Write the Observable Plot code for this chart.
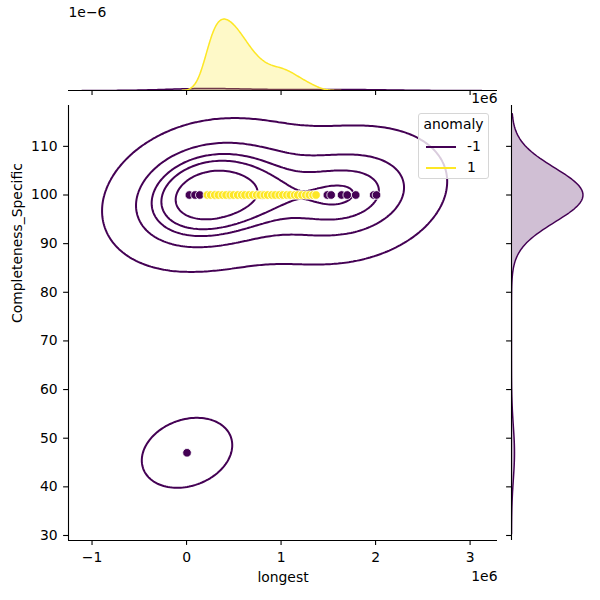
<!DOCTYPE html>
<html>
<head>
<meta charset="utf-8">
<script src="https://cdn.jsdelivr.net/npm/d3@7"></script>
<script src="https://cdn.jsdelivr.net/npm/@observablehq/plot@0.6"></script>
<style>
  body { margin: 0; background: #fff; }
  #chart { position: relative; width: 600px; height: 600px; font-family: "DejaVu Sans", sans-serif; color: #000; }
  #chart svg { position: absolute; left: 0; top: 0; }
  .legend { position: absolute; left: 418px; top: 113px; width: 71px; height: 66px; box-sizing: border-box;
            border: 1px solid #d6d6d6; border-radius: 3px; background: rgba(255,255,255,0.8); font-size: 13.9px; }
  .legend .title { position: absolute; left: 0; width: 100%; top: 2px; text-align: center; }
  .legend .row { position: absolute; left: 7px; height: 18px; }
  .legend .swatch { position: absolute; left: 0; top: 8px; width: 30px; height: 2px; }
  .legend .lab { position: absolute; left: 41px; top: 0; }
</style>
</head>
<body>
<div id="chart"></div>
<script>
const purple = "#440154";
const yellow = "#fde725";

// anomaly = -1 rows: longest, Completeness_Specific, number of identical rows
const outlierLongest = [30000, 90000, 140000, 300000, 450000, 600000, 800000, 1000000, 1200000,
  1490000, 1530000, 1640000, 1700000, 1790000, 1980000, 2010000, 5000];
const outlierCompleteness = [100, 100, 100, 100, 100, 100, 100, 100, 100,
  100, 100, 100, 100, 100, 100, 100, 47];
const outlierRepeat = [2, 3, 3, 2, 2, 2, 1, 1, 1,
  1, 1, 1, 1, 1, 1, 1, 1];

// anomaly = 1 rows: longest and number of identical rows (Completeness_Specific is always 100)
const normalLongest = [220000, 255000, 298000, 337000, 380000, 418000, 462000, 497000, 541000, 583000,
  618000, 662000, 701000, 742000, 779000, 823000, 858000, 902000, 938000, 981000,
  1019000, 1062000, 1098000, 1143000, 1177000, 1221000, 1262000, 1299000, 1338000, 1370000];
const normalRepeat = [16, 20, 22, 23, 23, 22, 21, 20, 19, 17,
  15, 13, 11, 10, 9, 8, 7, 7, 7, 7,
  7, 6, 6, 5, 4, 3, 3, 2, 2, 1];
const normalCompleteness = 100;

// Axis ticks and limits
const xTicks = [-1e6, 0, 1e6, 2e6, 3e6];
const yTicks = [30, 40, 50, 60, 70, 80, 90, 100, 110];
const xDomain = [-1.249e6, 3.29e6];
const yDomain = [28.97, 118.4];

// Iso-proportion levels for the joint density contours
const contourProportions = [0.05, 0.24, 0.43, 0.62, 0.81];

// ---- expand rows ----
function expand(xs, ys, reps) {
  const rows = [];
  xs.forEach((x, i) => {
    const y = Array.isArray(ys) ? ys[i] : ys;
    for (let k = 0; k < reps[i]; k++) rows.push({longest: x, completeness: y});
  });
  return rows;
}
const outlierRows = expand(outlierLongest, outlierCompleteness, outlierRepeat);
const normalRows = expand(normalLongest, normalCompleteness, normalRepeat);
const totalRows = outlierRows.length + normalRows.length;

function linspace(a, b, n) {
  return Array.from({length: n}, (_, i) => a + (b - a) * i / (n - 1));
}

// Gaussian KDE (Scott's rule), evaluated on a support grid, scaled by group share
function kde1d(values, share, gridsize = 200, cut = 3) {
  const n = values.length;
  const sd = d3.deviation(values);
  const bw = sd * Math.pow(n, -1 / 5);
  const [lo, hi] = d3.extent(values);
  const grid = linspace(lo - cut * bw, hi + cut * bw, gridsize);
  const k = share / (n * bw * Math.sqrt(2 * Math.PI));
  return grid.map(g => ({v: g, density: k * d3.sum(values, v => Math.exp(-0.5 * ((g - v) / bw) ** 2))}));
}

function kde2d(rows, gridsize = 200, cut = 3) {
  const n = rows.length;
  const xs = rows.map(d => d.longest), ys = rows.map(d => d.completeness);
  const mx = d3.mean(xs), my = d3.mean(ys);
  let sxx = 0, syy = 0, sxy = 0;
  for (let i = 0; i < n; i++) {
    const dx = xs[i] - mx, dy = ys[i] - my;
    sxx += dx * dx; syy += dy * dy; sxy += dx * dy;
  }
  const f2 = Math.pow(n, -2 / 6) / (n - 1);
  const cxx = sxx * f2, cyy = syy * f2, cxy = sxy * f2;
  const det = cxx * cyy - cxy * cxy;
  const ixx = cyy / det, iyy = cxx / det, ixy = -cxy / det;
  const norm = 1 / (2 * Math.PI * Math.sqrt(det) * n);
  const bx = Math.sqrt(cxx), by = Math.sqrt(cyy);
  const [x0, x1] = d3.extent(xs), [y0, y1] = d3.extent(ys);
  const gx = linspace(x0 - cut * bx, x1 + cut * bx, gridsize);
  const gy = linspace(y0 - cut * by, y1 + cut * by, gridsize);
  const values = new Float64Array(gridsize * gridsize);
  for (let j = 0; j < gridsize; j++) {
    for (let i = 0; i < gridsize; i++) {
      let s = 0;
      for (let r = 0; r < n; r++) {
        const dx = gx[i] - xs[r], dy = gy[j] - ys[r];
        s += Math.exp(-0.5 * (ixx * dx * dx + 2 * ixy * dx * dy + iyy * dy * dy));
      }
      values[j * gridsize + i] = s * norm;
    }
  }
  const sx = gx[1] - gx[0], sy = gy[1] - gy[0];
  return {values, gridsize, x1: gx[0] - sx / 2, x2: gx[gridsize - 1] + sx / 2, y1: gy[0] - sy / 2, y2: gy[gridsize - 1] + sy / 2};
}

function isoLevels(values, props) {
  const sorted = Array.from(values).sort((a, b) => b - a);
  const total = d3.sum(sorted);
  const cum = [];
  let s = 0;
  for (const v of sorted) { s += v; cum.push(s / total); }
  return props.map(p => sorted[Math.min(d3.bisectLeft(cum, 1 - p), sorted.length - 1)]);
}

const joint = kde2d(outlierRows);
const levels = isoLevels(joint.values, contourProportions);

const topOutlier = kde1d(outlierRows.map(d => d.longest), outlierRows.length / totalRows);
const topNormal = kde1d(normalRows.map(d => d.longest), normalRows.length / totalRows);
const rightOutlier = kde1d(outlierRows.map(d => d.completeness), outlierRows.length / totalRows);

const topMax = d3.max([...topOutlier, ...topNormal], d => d.density) * 1.05;
const rightMax = d3.max(rightOutlier, d => d.density) * 1.05;

const fmtE6 = d => String(Math.round(d / 1e6)).replace("-", "\u2212");
const baseStyle = {fontFamily: "DejaVu Sans", fontSize: "13.9px", color: "#000", background: "transparent", overflow: "visible"};

// ---- joint panel ----
const jointPlot = Plot.plot({
  width: 600, height: 600,
  marginLeft: 68, marginRight: 103, marginTop: 105, marginBottom: 60,
  style: baseStyle,
  x: {domain: xDomain},
  y: {domain: yDomain},
  marks: [
    Plot.contour(joint.values, {
      width: joint.gridsize, height: joint.gridsize,
      x1: joint.x1, x2: joint.x2, y1: joint.y1, y2: joint.y2,
      thresholds: levels, fill: "none", stroke: purple, strokeWidth: 2, clip: true
    }),
    Plot.dot(outlierLongest, {x: d => d, y: (d, i) => outlierCompleteness[i], r: 4.3, fill: purple, stroke: "white", strokeWidth: 0.8}),
    Plot.dot(normalLongest, {x: d => d, y: () => normalCompleteness, r: 4.3, fill: yellow, stroke: "white", strokeWidth: 0.8}),
    Plot.ruleY([yDomain[0]], {stroke: "#000", strokeWidth: 1.1}),
    Plot.ruleX([xDomain[0]], {stroke: "#000", strokeWidth: 1.1}),
    Plot.axisX({ticks: xTicks, tickFormat: fmtE6, tickSize: 4.9, tickPadding: 7, label: null, strokeWidth: 1.1}),
    Plot.axisY({ticks: yTicks, tickSize: 4.9, tickPadding: 6, label: null, strokeWidth: 1.1}),
    Plot.text(["longest"], {frameAnchor: "bottom", dy: 41, fontSize: 13.9}),
    Plot.text(["Completeness_Specific"], {frameAnchor: "left", dx: -50.5, rotate: -90, fontSize: 13.9}),
    Plot.text(["1e6"], {frameAnchor: "bottom-right", dy: 40, textAnchor: "end", fontSize: 13.9})
  ]
});

// ---- top marginal ----
const topPlot = Plot.plot({
  width: 600, height: 600,
  marginLeft: 68, marginRight: 103, marginTop: 15, marginBottom: 510,
  style: baseStyle,
  x: {domain: xDomain},
  y: {domain: [0, topMax], axis: null},
  marks: [
    Plot.areaY(topOutlier, {x: "v", y: "density", fill: purple, fillOpacity: 0.25, clip: true}),
    Plot.lineY(topOutlier, {x: "v", y: "density", stroke: purple, strokeWidth: 1.5, clip: true}),
    Plot.areaY(topNormal, {x: "v", y: "density", fill: yellow, fillOpacity: 0.25, clip: true}),
    Plot.lineY(topNormal, {x: "v", y: "density", stroke: yellow, strokeWidth: 1.5, clip: true}),
    Plot.ruleY([0], {stroke: "#000", strokeWidth: 1.1}),
    Plot.axisX({ticks: xTicks, tickFormat: () => "", tickSize: 4.9, label: null, strokeWidth: 1.1}),
    Plot.text(["1e\u22126"], {frameAnchor: "top-left", dy: -8, textAnchor: "start", fontSize: 13.9}),
    Plot.text(["1e6"], {frameAnchor: "bottom-right", dy: 12, textAnchor: "end", fontSize: 13.9})
  ]
});

// ---- right marginal ----
const rightPlot = Plot.plot({
  width: 600, height: 600,
  marginLeft: 511, marginRight: 14, marginTop: 105, marginBottom: 60,
  style: baseStyle,
  x: {domain: [0, rightMax], axis: null},
  y: {domain: yDomain},
  marks: [
    Plot.areaX(rightOutlier, {y: "v", x: "density", fill: purple, fillOpacity: 0.25, clip: true}),
    Plot.lineX(rightOutlier, {y: "v", x: "density", stroke: purple, strokeWidth: 1.5, clip: true}),
    Plot.ruleX([0], {stroke: "#000", strokeWidth: 1.1}),
    Plot.axisY({ticks: yTicks, tickFormat: () => "", tickSize: 4.9, anchor: "left", label: null, strokeWidth: 1.1})
  ]
});

const chart = document.getElementById("chart");
chart.append(jointPlot, topPlot, rightPlot);

// legend
const legend = document.createElement("div");
legend.className = "legend";
legend.innerHTML = `<div class="title">anomaly</div>
  <div class="row" style="top:24px"><div class="swatch" style="background:${purple}"></div><div class="lab">-1</div></div>
  <div class="row" style="top:45px"><div class="swatch" style="background:${yellow}"></div><div class="lab">1</div></div>`;
chart.append(legend);
</script>
</body>
</html>
